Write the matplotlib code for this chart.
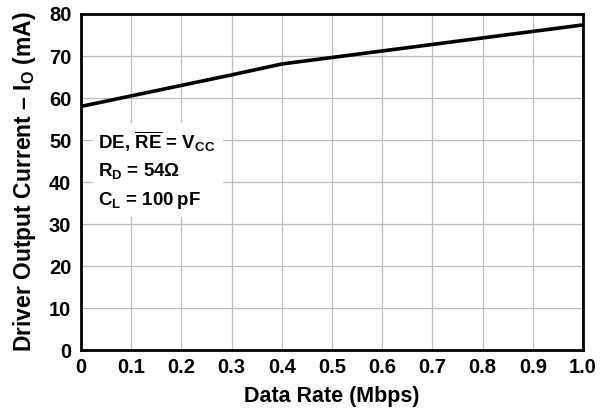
import matplotlib
matplotlib.use("Agg")
import matplotlib.pyplot as plt
from matplotlib.patches import Rectangle

plt.rcParams['font.family'] = ['Liberation Sans', 'DejaVu Sans']
plt.rcParams['font.weight'] = 'bold'
plt.rcParams['mathtext.fontset'] = 'custom'
plt.rcParams['mathtext.rm'] = 'Liberation Sans:bold'
plt.rcParams['mathtext.bf'] = 'Liberation Sans:bold'
plt.rcParams['mathtext.it'] = 'Liberation Sans:bold'

data_rate = [0.0, 0.1, 0.2, 0.3, 0.4, 0.6, 0.8, 1.0]
current = [58.0, 60.5, 63.0, 65.5, 68.1, 71.2, 74.3, 77.4]
xticks = [0, 0.1, 0.2, 0.3, 0.4, 0.5, 0.6, 0.7, 0.8, 0.9, 1.0]
xticklabels = ['0', '0.1', '0.2', '0.3', '0.4', '0.5', '0.6', '0.7', '0.8', '0.9', '1.0']
yticks = [0, 10, 20, 30, 40, 50, 60, 70, 80]
notes = ['DE, $\\overline{\\mathrm{RE}}$ = V$_\\mathrm{CC}$',
         'R$_\\mathrm{D}$ = 54Ω',
         'C$_\\mathrm{L}$ = 100\u2009pF']

fig = plt.figure(figsize=(6.01, 4.15), dpi=100)
ax = fig.add_axes([81/601, 1-350/415, (583-81)/601, (350-14)/415])
ax.plot(data_rate, current, color='black', lw=2.6, solid_capstyle='butt', zorder=3)
ax.set_xlim(0, 1.0)
ax.set_ylim(0, 80)
ax.set_xticks(xticks)
ax.set_xticklabels(xticklabels)
ax.set_yticks(yticks)
ax.tick_params(length=0, labelsize=14.5)
ax.tick_params(axis='y', pad=7)
ax.tick_params(axis='x', pad=6)
for lab in ax.get_xticklabels() + ax.get_yticklabels():
    lab.set_fontweight('bold')
ax.grid(True, color='#bcbcbc', lw=0.9)
ax.set_axisbelow(True)
for s in ax.spines.values():
    s.set_linewidth(2.0)
    s.set_zorder(4)
ax.set_xlabel('Data Rate (Mbps)', fontsize=15.5, fontweight='bold', labelpad=6)
ax.set_ylabel('Driver Output Current – I$_\\mathrm{O}$ (mA)', fontsize=16.5,
              fontweight='bold', labelpad=8)

ax.add_patch(Rectangle((0.024, 0.396), 0.259, 0.28, transform=ax.transAxes,
                       facecolor='white', edgecolor='none', zorder=1.5))
for ypos, txt in zip([0.619, 0.532, 0.446], notes):
    ax.text(0.034, ypos, txt, transform=ax.transAxes, fontsize=13.5,
            fontweight='bold', va='center', ha='left', zorder=2)

fig.savefig('out.png', dpi=100)
